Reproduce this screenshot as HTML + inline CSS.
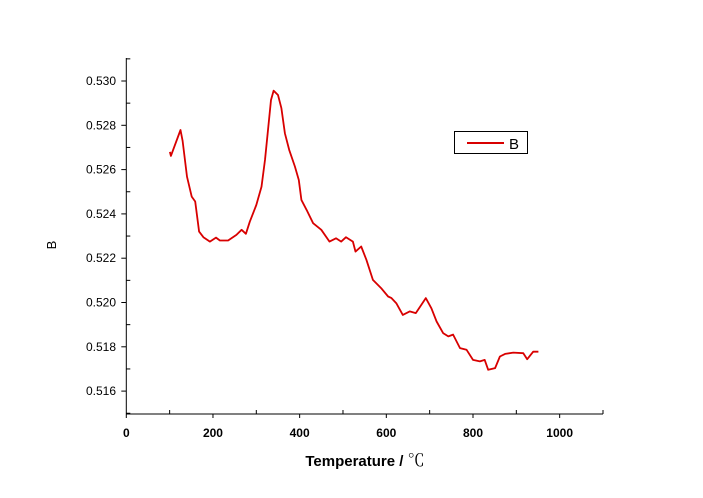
<!DOCTYPE html>
<html><head><meta charset="utf-8"><style>
body{margin:0;background:#fff;}
svg{display:block;font-family:"Liberation Sans",Arial,sans-serif;}
</style></head><body>
<svg id="chart" width="703" height="498">
<g id="axes"></g>
<g id="series"></g>
<g>
<rect x="454.5" y="131.5" width="73" height="22" fill="#fff" stroke="#000" stroke-width="1"/>
<line x1="467" y1="143" x2="504" y2="143" stroke="#d80000" stroke-width="2"/>
<text x="509" y="149" font-size="15">B</text>
</g>
<text x="365" y="466" font-size="15" font-weight="bold" text-anchor="middle">Temperature / <tspan font-family="'Noto Serif CJK SC',serif" font-weight="normal" font-size="17">℃</tspan></text>
<text transform="translate(56,245) rotate(-90)" font-size="13" text-anchor="middle">B</text>
</svg>
<script>
const xTicks=[0,200,400,600,800,1000];
const yTicks=[0.516,0.518,0.520,0.522,0.524,0.526,0.528,0.530];
const temps=[100.6,103,125,130,140,151,159,168,178,193,207,216,235,254,266,276,285,300,312,320,327,334,340,350,358,366,376,389,398,404,416,431,450,469,484,496,507,523,529,542,554,569,588,604,612,623,638,654,668,681,691,704,716,731,743,754,770,785,800,816,827,835,851,862,874,893,916,925,939,951];
const valuesB=[0.5268,0.52662,0.52779,0.5273,0.52568,0.52478,0.52456,0.5232,0.52295,0.52275,0.52293,0.5228,0.5228,0.52305,0.52328,0.5231,0.52365,0.5244,0.52523,0.52644,0.52779,0.52914,0.52956,0.52937,0.52877,0.52764,0.52689,0.52614,0.52553,0.52463,0.52418,0.52358,0.52328,0.52275,0.5229,0.52275,0.52295,0.52275,0.5223,0.52253,0.52193,0.52102,0.52065,0.52027,0.5202,0.51997,0.51944,0.5196,0.51952,0.5199,0.5202,0.51974,0.51914,0.51862,0.51847,0.51855,0.51794,0.51787,0.51741,0.51734,0.51741,0.51696,0.51704,0.51756,0.51768,0.51774,0.51771,0.51744,0.51778,0.51778];
const NS="http://www.w3.org/2000/svg";
const X0=126.3,XR=603,XMAX=1100,YB=414,YT=58;
function sx(v){return X0+v*(XR-X0)/XMAX;}
function sy(v){return 81+(0.530-v)/0.002*44.3;}
function mk(tag,attrs,parent){const e=document.createElementNS(NS,tag);for(const k in attrs)e.setAttribute(k,attrs[k]);parent.appendChild(e);return e;}
const ax=document.getElementById('axes');
let l=mk('line',{x1:X0,y1:YT,x2:X0,y2:YB,stroke:'#000','stroke-width':1},ax);


l=mk('line',{x1:X0,y1:YB,x2:XR,y2:YB,stroke:'#000','stroke-width':1},ax);


for(let v=0;v<=XMAX;v+=100){
  const major=v%200===0;
  const t=mk('line',{x1:sx(v),x2:sx(v),y1:major?YB:YB-4,y2:major?YB+4:YB,stroke:'#000'},ax);
  
  
}
xTicks.forEach(v=>{const t=mk('text',{x:sx(v),y:437,'font-size':12,'font-weight':'bold','text-anchor':'middle'},ax);t.textContent=v;

});
for(let i=0;i<=16;i++){
  const v=0.515+i*0.001;const major=i%2===1;const y=sy(v);
  if(y<YT-1)continue;
  const t=mk('line',{x1:major?X0-5:X0,x2:major?X0:X0+4,y1:y,y2:y,stroke:'#000'},ax);
  
  
}
yTicks.forEach(v=>{const t=mk('text',{x:116,y:sy(v)+4,'font-size':12,'text-anchor':'end'},ax);t.textContent=v.toFixed(3);

});
const p=mk('path',{d:temps.map((t,i)=>(i?'L':'M')+sx(t).toFixed(1)+','+sy(valuesB[i]).toFixed(1)).join(''),fill:'none',stroke:'#d80000','stroke-width':1.8,'stroke-linejoin':'round'},document.getElementById('series'));


</script>
</body></html>
